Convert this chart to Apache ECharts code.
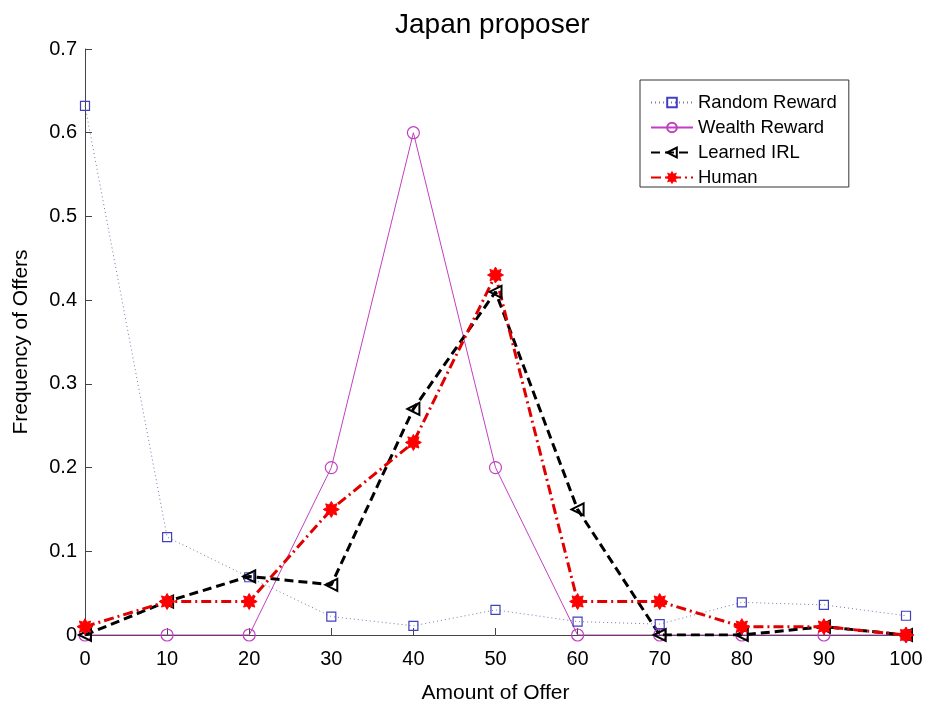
<!DOCTYPE html>
<html><head><meta charset="utf-8">
<script src="https://cdn.jsdelivr.net/npm/echarts@6/dist/echarts.min.js"></script>
<style>html,body{margin:0;padding:0;background:#fff}#c{width:935px;height:703px}</style>
</head><body><div id="c"></div>
<script>
const offers = [0, 10, 20, 30, 40, 50, 60, 70, 80, 90, 100];
const randomReward = [0.632, 0.117, 0.069, 0.022, 0.011, 0.030, 0.016, 0.013, 0.039, 0.036, 0.023];
const wealthReward = [0, 0, 0, 0.2, 0.6, 0.2, 0, 0, 0, 0, 0];
const learnedIRL = [0, 0.04, 0.07, 0.06, 0.27, 0.41, 0.15, 0, 0, 0.01, 0];
const human = [0.01, 0.04, 0.04, 0.15, 0.23, 0.43, 0.04, 0.04, 0.01, 0.01, 0];
const yTicks = [0, 0.1, 0.2, 0.3, 0.4, 0.5, 0.6, 0.7];

const pair = arr => offers.map((x, i) => [x, arr[i]]);
const star = 'path://M0,-10L2.5,-5.5L7,-7L5.5,-2.5L10,0L5.5,2.5L7,7L2.5,5.5L0,10L-2.5,5.5L-7,7L-5.5,2.5L-10,0L-5.5,-2.5L-7,-7L-2.5,-5.5Z';
const font = 'Liberation Sans, Arial, sans-serif';
const clear = 'rgba(255,255,255,0)';

const chart = echarts.init(document.getElementById('c'));
chart.setOption({
  animation: false,
  backgroundColor: '#fff',
  title: { text: 'Japan proposer', left: 390, top: 6,
    textStyle: { fontFamily: font, fontSize: 28, fontWeight: 'normal', color: '#000' } },
  grid: { left: 85, right: 29, top: 49, bottom: 68, outerBoundsMode: 'none', containLabel: false },
  legend: {
    orient: 'vertical', left: 640, top: 80, width: 206,
    padding: [13, 12, 0, 10], itemGap: 6, itemWidth: 42, itemHeight: 12,
    borderColor: '#333', borderWidth: 1, backgroundColor: '#fff',
    textStyle: { fontFamily: font, fontSize: 18.5, color: '#000' },
    data: ['Random Reward', 'Wealth Reward', 'Learned IRL', 'Human']
  },
  xAxis: {
    type: 'value', min: 0, max: 100, interval: 10,
    name: 'Amount of Offer', nameLocation: 'middle', nameGap: 48,
    nameTextStyle: { fontFamily: font, fontSize: 21, color: '#000' },
    axisLine: { lineStyle: { color: '#444', width: 1 } },
    axisTick: { inside: true, length: 7, lineStyle: { color: '#444' } },
    axisLabel: { fontFamily: font, fontSize: 20, color: '#000', margin: 14 },
    splitLine: { show: false }
  },
  yAxis: {
    type: 'value', min: 0, max: 0.7, interval: 0.1,
    name: 'Frequency of Offers', nameLocation: 'middle', nameGap: 53,
    nameTextStyle: { fontFamily: font, fontSize: 21, color: '#000' },
    axisLine: { show: true, lineStyle: { color: '#444', width: 1 } },
    axisTick: { show: true, inside: true, length: 7, lineStyle: { color: '#444' } },
    axisLabel: { fontFamily: font, fontSize: 20, color: '#000', margin: 8,
      formatter: v => { const t = yTicks.find(y => Math.abs(y - v) < 1e-9); return t === undefined ? '' : String(t); } },
    splitLine: { show: false }
  },
  series: [
    { name: 'Random Reward', type: 'line', data: pair(randomReward),
      symbol: 'rect', symbolSize: 9, showAllSymbol: true,
      lineStyle: { color: '#7777aa', width: 1, type: [1, 3] },
      itemStyle: { color: clear, borderColor: '#4040c0', borderWidth: 1.2 } },
    { name: 'Wealth Reward', type: 'line', data: pair(wealthReward),
      symbol: 'circle', symbolSize: 12,
      lineStyle: { color: '#c040c0', width: 1, type: 'solid' },
      itemStyle: { color: clear, borderColor: '#c040c0', borderWidth: 1.2 } },
    { name: 'Learned IRL', type: 'line', data: pair(learnedIRL),
      symbol: 'triangle', symbolRotate: 90, symbolSize: 12,
      lineStyle: { color: '#000', width: 3, type: [9, 5] },
      itemStyle: { color: clear, borderColor: '#000', borderWidth: 2 } },
    { name: 'Human', type: 'line', data: pair(human),
      symbol: star, symbolSize: 16,
      lineStyle: { color: '#e00000', width: 3, type: [10, 4, 2, 4] },
      itemStyle: { color: '#ff0000', borderColor: '#ff0000', borderWidth: 1 } }
  ]
});
</script></body></html>
